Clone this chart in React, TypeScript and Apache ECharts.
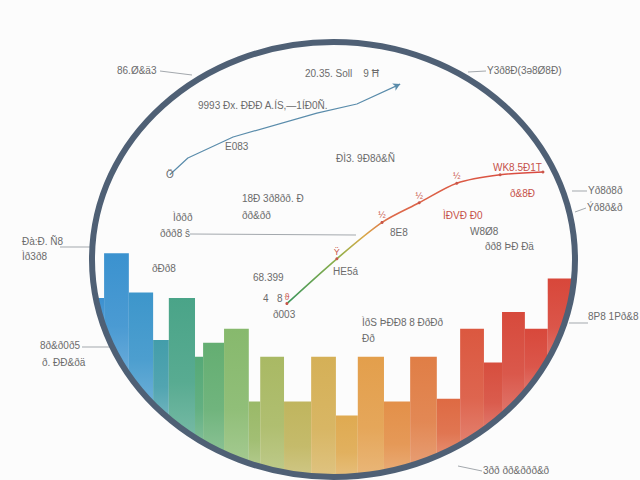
import React, { useEffect, useRef } from "react";
import * as echarts from "echarts";

// Histogram-like bars: bin edges (x units 0..100) and heights (y units)
const binEdges = [0, 1.7, 6.9, 12.0, 15.3, 20.8, 22.5, 26.9, 32.1, 34.5, 39.5, 45.2, 50.4, 55.0, 60.5, 66.0, 71.6, 76.5, 81.5, 85.3, 90.1, 94.9, 100];
const barValues = [65, 81, 67, 50, 65, 44, 49, 54, 28, 44, 28, 44, 23, 44, 28, 44, 29, 54, 42, 60, 54, 72];

// Rising trend line (green -> red)
const trendX = [40.1, 50.6, 60.1, 67.9, 75.8, 84.9, 93.9];
const trendY = [63, 79, 92, 99, 106, 109, 110];
const trendMarks = ["ϑ", "Ϋ", "½", "½", "½", "", ""];

// Upper thin blue line
const blueX = [15.5, 19.3, 28.8, 46.4, 54.8, 63.9];
const blueY = [109, 115, 122.5, 131, 134.3, 141.4];
const blueMarks = ["", "Ω", "Y", "", "v", ""];

// Gibberish annotations (as in the reference)
const notes: [number, number, string, string?][] = [
  [117, 70, "86.Ø&ä3"],
  [305, 73, "20.35. Soll    9 Ħ"],
  [487, 70, "Y3ð8Ð(3ə8Ø8Ð)"],
  [198, 105, "9993 Ðx. ÐÐÐ A.ÍS,—1ÍÐ0Ñ."],
  [225, 146, "E083"],
  [166, 174, "Ö"],
  [336, 158, "ÐÌ3. 9Ð8ð&Ñ"],
  [242, 198, "18Ð 3ð8ðð. Ð"],
  [242, 215, "ðð&ðð"],
  [173, 217, "Ìððð"],
  [160, 233, "ððð8 ŝ"],
  [152, 268, "ðÐð8"],
  [253, 277, "68.399"],
  [263, 298, "4   8"],
  [273, 314, "ð003"],
  [333, 271, "HE5á"],
  [390, 232, "8E8"],
  [443, 215, "ÌÐVÐ Ð0", "#c6524b"],
  [470, 231, "W8Ø8"],
  [485, 246, "ðð8 ÞÐ Ðä"],
  [493, 167, "WK8.5Ð1T", "#c6524b"],
  [510, 193, "ð&8Ð", "#c6524b"],
  [588, 190, "Yð8ð8ð"],
  [587, 207, "Ýð8ð&ð"],
  [588, 316, "8P8 1Pð&8"],
  [22, 241, "Ðà:Ð. Ñ8"],
  [22, 256, "Ìð3ð8"],
  [40, 345, "8ð&ð0ð5"],
  [42, 362, "ð. ÐÐ&ðä"],
  [362, 322, "ÌðS ÞÐÐ8 8 ÐðÐð"],
  [362, 338, "Ðð"],
  [483, 470, "3ðð ðð&ððð&ð"],
];

const leaders: [number, number, number, number][] = [
  [160, 71, 192, 75],
  [468, 72, 486, 71],
  [190, 234, 356, 235],
  [572, 191, 587, 191],
  [575, 212, 586, 208],
  [569, 323, 588, 323],
  [60, 247, 92, 247],
  [82, 347, 110, 347],
  [458, 466, 482, 471],
];

const CX = 333.5, CY = 259.5, RX = 241.5, RY = 217.5;

export default function App() {
  const ref = useRef<HTMLDivElement>(null);
  useEffect(() => {
    document.body.style.margin = "0";
    const chart = echarts.init(ref.current!, null, { renderer: "svg" });
    const barData = barValues.map((v, i) => [binEdges[i], binEdges[i + 1], v, (binEdges[i] + binEdges[i + 1]) / 2]);
    const font = '10px "Liberation Sans", sans-serif';
    const graphics: any[] = [
      {
        type: "ellipse",
        z: 100,
        shape: { cx: CX, cy: CY, rx: RX, ry: RY },
        style: { fill: "none", stroke: "#4f6075", lineWidth: 6 },
      },
      ...leaders.map(([x1, y1, x2, y2]) => ({
        type: "line",
        z: 90,
        shape: { x1, y1, x2, y2 },
        style: { stroke: "#a3a8ad", lineWidth: 1 },
      })),
      ...notes.map(([x, y, t, c]) => ({
        type: "text",
        z: 95,
        x,
        y,
        style: { text: t, fill: c || "#6b6b6b", font, verticalAlign: "middle" },
      })),
    ];
    chart.setOption({
      animation: false,
      backgroundColor: "#fcfcfc",
      grid: { left: 96, width: 476, top: 32, height: 448 },
      xAxis: { type: "value", min: 0, max: 100, show: false },
      yAxis: { type: "value", min: 0, max: 160, show: false },
      visualMap: {
        show: false,
        type: "continuous",
        seriesIndex: 0,
        dimension: 3,
        min: 0,
        max: 100,
        inRange: {
          color: [
            "#3b8fd0", "#3b92cf", "#3d96cb", "#45a09e", "#4da67a", "#66af72", "#8bba6c",
            "#a2b966", "#b4b862", "#cdb25a", "#dbae54", "#e2a64e", "#e49a4b", "#e28a48",
            "#e07a45", "#dd6642", "#da5540", "#d64b3d", "#d7493b", "#d8473a", "#d8463a",
          ],
        },
      },
      series: [
        {
          type: "custom",
          data: barData,
          encode: { x: [0, 1], y: 2 },
          z: 2,
          renderItem: (params: any, api: any) => {
            const a = api.coord([api.value(0), api.value(2)]);
            const b = api.coord([api.value(1), 0]);
            const left = a[0], right = b[0], top = a[1];
            const tops: number[][] = [];
            const bots: number[][] = [];
            const N = 16;
            for (let i = 0; i <= N; i++) {
              const x = left + ((right - left) * i) / N;
              const t = (x - CX) / RX;
              if (Math.abs(t) >= 1) continue;
              const h = RY * Math.sqrt(1 - t * t);
              const yt = Math.max(top, CY - h);
              const yb = CY + h;
              if (yt < yb) {
                tops.push([x, yt]);
                bots.unshift([x, yb]);
              }
            }
            if (tops.length < 2) return null;
            const color = api.visual("color");
            return {
              type: "polygon",
              shape: { points: tops.concat(bots) },
              style: {
                fill: new echarts.graphic.LinearGradient(0, 0, 0, 1, [
                  { offset: 0, color },
                  { offset: 0.6, color: echarts.color.modifyAlpha(color, 0.92) },
                  { offset: 1, color: echarts.color.modifyAlpha(color, 0.75) },
                ]),
              },
            };
          },
        },
        {
          type: "line",
          z: 5,
          smooth: 0.3,
          data: trendX.map((x, i) => ({
            value: [x, trendY[i]],
            label: { show: !!trendMarks[i], formatter: trendMarks[i] },
          })),
          symbol: "circle",
          symbolSize: 3,
          itemStyle: { color: "#c9564a" },
          label: { position: "top", distance: 1, fontSize: 9, color: "#c9564a" },
          lineStyle: {
            width: 1.6,
            color: new echarts.graphic.LinearGradient(0, 0, 1, 0, [
              { offset: 0, color: "#3a955c" },
              { offset: 0.2, color: "#8fb04a" },
              { offset: 0.3, color: "#d9a948" },
              { offset: 0.4, color: "#dd6a4a" },
              { offset: 1, color: "#d9483f" },
            ]),
          },
        },
        {
          type: "line",
          z: 5,
          data: blueX.map((x, i) => ({
            value: [x, blueY[i]],
            symbol: i === blueX.length - 1 ? "arrow" : "none",
            symbolSize: [6, 7],
            symbolRotate: -65,
            label: { show: !!blueMarks[i], formatter: blueMarks[i] },
          })),
          itemStyle: { color: "#5a8cab" },
          label: { position: "top", distance: 1, fontSize: 9, color: "#5a8cab" },
          lineStyle: { width: 1.2, color: "#5a8cab" },
        },
      ],
      graphic: graphics,
    });
    return () => chart.dispose();
  }, []);
  return <div ref={ref} style={{ position: "fixed", left: 0, top: 0, width: 640, height: 480 }} />;
}
